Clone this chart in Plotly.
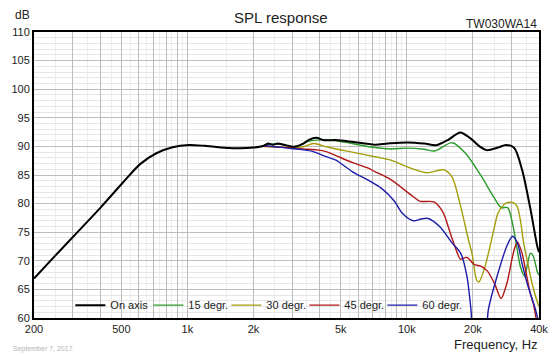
import math
import plotly.graph_objects as go

# ---------------- data ----------------
on_f = [200, 250, 303, 403, 505, 609, 722, 856, 1013, 1200, 1550, 1716, 2000, 2210, 2330, 2450,
        2580, 2750, 3060, 3380, 3560, 3880, 4150, 4750, 5630, 7140, 8180, 10030, 12000, 13600,
        15500, 17500, 19500, 21500, 23100, 26000, 28300, 30800, 33500, 36500, 39300, 40000]
on_db = [66.9, 70.9, 74.3, 79.35, 83.55, 86.9, 88.8, 89.84, 90.24, 90.1, 89.7, 89.67, 89.8, 90.07, 90.5, 90.3,
         90.5, 90.3, 89.95, 90.5, 91.1, 91.5, 91.1, 91.1, 90.8, 90.3, 90.5, 90.7, 90.5, 90.2,
         91.2, 92.45, 91.4, 89.95, 89.35, 89.8, 90.25, 89.75, 85.9, 79.2, 72.5, 71.5]

d15_f = [2200, 2250, 2580, 3060, 3500, 3880, 4750, 5630, 7140, 8450, 10000, 12000, 13400, 16100,
         18500, 21900, 25100, 26900, 28800, 30300, 31500, 32900, 34400, 36500, 37500, 39300, 40000]
d15_db = [90.0, 90.2, 90.4, 89.95, 90.8, 91.1, 91.0, 90.5, 89.8, 89.55, 89.7, 89.5, 89.2, 90.65,
          88.8, 84.7, 80.9, 79.3, 79.3, 76.5, 73.0, 69.0, 67.3, 71.3, 71.0, 68.1, 67.5]

d30_f = [2200, 2860, 3380, 3740, 4150, 4750, 5630, 7140, 8450, 10000, 12300, 14800, 16100, 17300,
         17900, 19100, 19800, 20800, 21300, 22700, 25100, 26000, 27800, 28800, 30800, 31900, 32900,
         34100, 35800, 37500, 39300, 40000]
d30_db = [90.0, 89.8, 89.95, 90.5, 90.1, 89.55, 89.0, 88.2, 87.6, 86.45, 85.4, 85.9, 84.6, 80.6,
          78.3, 73.6, 71.3, 66.6, 66.3, 69.0, 76.0, 78.3, 79.9, 80.2, 80.1, 79.4, 77.1,
          73.0, 69.0, 65.5, 62.8, 62.0]

d45_f = [2200, 2860, 3380, 3880, 4290, 4750, 5630, 6670, 7140, 8450, 10700, 11500, 13300, 14600,
         15600, 16100, 17000, 17500, 18800, 20200, 21900, 23300, 25100, 26900, 28000, 28800, 30800,
         31900, 33500, 34100, 36500, 37700, 39000, 40000]
d45_db = [90.0, 89.8, 89.55, 89.4, 89.1, 88.4, 87.2, 86.2, 85.6, 84.2, 81.2, 80.4, 80.3, 78.5,
          75.4, 73.8, 71.3, 70.3, 70.6, 69.4, 69.0, 68.2, 66.0, 63.4, 65.0, 66.6, 71.9,
          73.3, 71.3, 70.0, 64.3, 62.5, 59.5, 58.0]

d60_f = [2200, 2250, 2860, 3380, 3740, 4290, 4750, 5630, 6670, 7650, 8760, 9530, 10700, 11600,
         12500, 14100, 16100, 17600, 18800, 19600, 20500, 22500, 23500, 26000, 28500, 30300, 31900,
         33500, 35300, 38600, 40000]
d60_db = [90.0, 90.1, 89.7, 89.4, 89.1, 88.2, 87.6, 85.6, 84.1, 82.7, 80.45, 78.3, 77.0, 77.3,
          77.4, 76.0, 73.1, 71.3, 67.2, 61.4, 54.0, 54.0, 61.4, 67.8, 72.5, 74.3, 73.1,
          69.5, 66.1, 61.4, 59.0]

series_names = ["On axis", "15 degr.", "30 degr.", "45 degr.", "60 degr."]
series_colors = ["#000000", "#2a9a2a", "#a39d0c", "#b01818", "#1c1ca8"]

x_tick_vals = [200, 300, 400, 500, 600, 700, 800, 900,
               1000, 2000, 3000, 4000, 5000, 6000, 7000, 8000, 9000,
               10000, 20000, 30000, 40000]
x_tick_labels = {200: "200", 500: "500", 1000: "1k", 2000: "2k", 5000: "5k",
                 10000: "10k", 20000: "20k", 40000: "40k"}
x_minor_vals = [250, 350, 450, 550, 650, 750, 850, 950,
                1500, 2500, 3500, 4500, 5500, 6500, 7500, 8500, 9500,
                15000, 25000, 35000]
y_tick_vals = [60, 65, 70, 75, 80, 85, 90, 95, 100, 105, 110]

# ---------------- figure ----------------
FONT = "Arial, Liberation Sans, sans-serif"
fig = go.Figure()
all_f = [on_f, d15_f, d30_f, d45_f, d60_f]
all_db = [on_db, d15_db, d30_db, d45_db, d60_db]
widths = [2, 1.4, 1.4, 1.4, 1.4]
for name, color, f, db, w in zip(series_names, series_colors, all_f, all_db, widths):
    fig.add_trace(go.Scatter(x=f, y=db, mode="lines", name=name,
                             line=dict(color=color, width=w, shape="spline", smoothing=0.8)))
# draw on-axis on top
fig.data = fig.data[1:] + fig.data[:1]
order = {n: i for i, n in enumerate(series_names)}
for tr in fig.data:
    tr.legendrank = order[tr.name]
# invisible spacer entry so the last legend label is not clipped
fig.add_trace(go.Scatter(x=[None], y=[None], mode="lines", name=" ",
                         line=dict(color="rgba(0,0,0,0)", width=0),
                         hoverinfo="skip", legendrank=99))

fig.update_layout(
    width=559, height=356,
    margin=dict(l=29, r=11, t=32, b=38),
    paper_bgcolor="white", plot_bgcolor="white",
    font=dict(family=FONT, size=11, color="#222222"),
    showlegend=True,
    legend=dict(orientation="h", x=0.072, y=0.045, xanchor="left", yanchor="middle",
                bgcolor="rgba(255,255,255,0)", font=dict(size=11, color="#222222"),
                entrywidth=33, entrywidthmode="pixels", traceorder="normal",
                itemclick=False),
    xaxis=dict(type="log", range=[math.log10(200), math.log10(40000)],
               tickmode="array", tickvals=x_tick_vals,
               ticktext=[x_tick_labels.get(v, "") for v in x_tick_vals],
               showgrid=True, gridcolor="#bcbcbc", gridwidth=1,
               minor=dict(tickmode="array", tickvals=x_minor_vals, showgrid=True,
                          gridcolor="#ececec", gridwidth=1, ticks=""),
               showline=True, linecolor="black", linewidth=2, mirror=True,
               ticks="", tickfont=dict(size=11), zeroline=False),
    yaxis=dict(range=[60, 110], tickmode="array", tickvals=y_tick_vals,
               showgrid=True, gridcolor="#bcbcbc", gridwidth=1,
               minor=dict(dtick=1, showgrid=True, gridcolor="#e6e6e6", gridwidth=1, ticks=""),
               showline=True, linecolor="black", linewidth=2, mirror=True,
               ticks="", tickfont=dict(size=11), zeroline=False),
)

ann = [
    dict(text="SPL response", x=0.49, y=1.052, xanchor="center", yanchor="middle",
         font=dict(size=15, color="#222222")),
    dict(text="dB", x=-0.023, y=1.059, xanchor="center", yanchor="middle",
         font=dict(size=12, color="#222222")),
    dict(text="TW030WA14", x=1.0, y=1.028, xanchor="right", yanchor="middle",
         font=dict(size=12, color="#222222")),
    dict(text="Frequency, Hz", x=1.002, y=-0.091, xanchor="right", yanchor="middle",
         font=dict(size=13, color="#222222")),
    dict(text="September 7, 2017", x=-0.046, y=-0.108, xanchor="left", yanchor="middle",
         font=dict(size=7, color="#b4b4b4")),
]
for a in ann:
    fig.add_annotation(xref="paper", yref="paper", showarrow=False, **a)

fig.write_html("out.html", config={"displayModeBar": False},
               post_script="document.body.style.margin='0';document.body.style.padding='0';")
